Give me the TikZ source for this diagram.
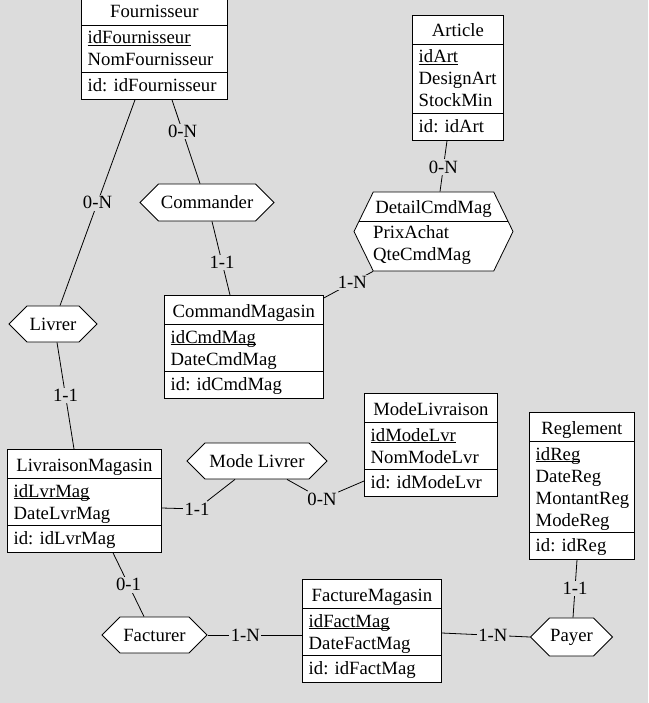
\documentclass[tikz,border=0pt]{standalone}
\usepackage{fontspec}
\setmainfont{Liberation Serif}
\usepackage{tikz}
\usetikzlibrary{shapes.symbols}
\definecolor{SchemaGray}{RGB}{220,220,220}

\newcommand{\idkey}[1]{\underline{\smash{#1}}}
% name, x, top, width, number of attributes, title, attributes, identifier
\newcommand{\ErEntity}[8]{%
  \node[entbox,minimum width=#4pt,minimum height={59pt+22pt*#5},anchor=north west] (#1) at (#2,#3) {};
  \draw[erline] ([yshift=-29pt]#1.north west) -- ([yshift=-29pt]#1.north east);
  \draw[erline] ([yshift=27pt]#1.south west) -- ([yshift=27pt]#1.south east);
  \node[ertext,anchor=base] at ([yshift=-22pt]#1.north) {#6};
  \foreach \a [count=\i] in {#7}
    \node[ertext,anchor=base west] at ([xshift=6.5pt,yshift={-48pt-22pt*(\i-1)}]#1.north west) {\a};
  \node[ertext,anchor=base west] at ([xshift=6.5pt,yshift=8pt]#1.south west) {#8};
}

\tikzset{
  erfont/.style={font=\fontsize{18.7pt}{22pt}\selectfont},
  erline/.style={line width=0.8pt},
  entbox/.style={draw,erline,fill=white,inner sep=0pt},
  ertext/.style={erfont,inner sep=0pt},
  relhex/.style={draw,erline,fill=white,erfont,shape=signal,signal to=west and east,
    signal pointer angle=90,inner sep=0pt},
  card/.style={erfont,fill=SchemaGray,inner sep=1.5pt}
}

\begin{document}
\begin{tikzpicture}[x=1pt,y=-1pt]
\fill[SchemaGray] (0,0) rectangle (648,703);
\useasboundingbox (0,0) rectangle (648,703);

\ErEntity{fourn}{81}{-4}{146}{2}{Fournisseur}{\idkey{idFournisseur},NomFournisseur}{id: idFournisseur}
\ErEntity{art}{412}{15}{91}{3}{Article}{\idkey{idArt},DesignArt,StockMin}{id: idArt}
\ErEntity{cmdmag}{164}{295}{159}{2}{CommandMagasin}{\idkey{idCmdMag},DateCmdMag}{id: idCmdMag}
\ErEntity{livmag}{7}{449}{154}{2}{LivraisonMagasin}{\idkey{idLvrMag},DateLvrMag}{id: idLvrMag}
\ErEntity{modelvr}{364}{393}{133}{2}{ModeLivraison}{\idkey{idModeLvr},NomModeLvr}{id: idModeLvr}
\ErEntity{regl}{529}{412}{105}{4}{Reglement}{\idkey{idReg},DateReg,MontantReg,ModeReg}{id: idReg}
\ErEntity{factmag}{302}{579}{139}{2}{FactureMagasin}{\idkey{idFactMag},DateFactMag}{id: idFactMag}

\node[relhex,minimum width=134pt,minimum height=37pt] (cmder) at (207,202.5) {Commander};
\node[relhex,minimum width=88pt,minimum height=36pt] (livrer) at (53,324) {Livrer};
\node[relhex,minimum width=140pt,minimum height=36pt] (mlivrer) at (257,461) {Mode Livrer};
\node[relhex,minimum width=105pt,minimum height=36pt] (fact) at (154.5,635) {Facturer};
\node[relhex,minimum width=82pt,minimum height=38pt] (payer) at (571.5,637) {Payer};
\node[relhex,signal pointer angle=128,minimum width=159pt,minimum height=79pt] (detail) at (433.5,231.5) {};
\draw[erline] ([xshift=-74.5pt,yshift=10.5pt]detail.center) -- ([xshift=74.5pt,yshift=10.5pt]detail.center);
\node[ertext,anchor=base] at ([yshift=17.5pt]detail.center) {DetailCmdMag};
\node[ertext,anchor=base west] at ([xshift=-60.5pt,yshift=-6.5pt]detail.center) {PrixAchat};
\node[ertext,anchor=base west] at ([xshift=-60.5pt,yshift=-28.5pt]detail.center) {QteCmdMag};

\node[card,fill=none] (lvr1) at (197,509) {1-1};
\node[card,fill=none] (lvr2) at (322,499) {0-N};

\draw[erline] ([xshift=54pt]fourn.south west) -- node[card,pos=.5] {0-N} ([xshift=7pt]livrer.north);
\draw[erline] ([xshift=91pt]fourn.south west) -- node[card,pos=.38] {0-N} ([xshift=-7pt]cmder.north);
\draw[erline] ([xshift=5pt]cmder.south) -- node[card,pos=.56] {1-1} ([xshift=66pt]cmdmag.north west);
\draw[erline] ([xshift=35pt]art.south west) -- node[card,pos=.52] {0-N} ([xshift=6.5pt]detail.north);
\draw[erline] ([xshift=-60.5pt]detail.south) -- node[card,pos=.42] {1-N} ([yshift=-3pt]cmdmag.north east);
\draw[erline] ([xshift=4pt]livrer.south) -- node[card,pos=.5] {1-1} ([xshift=67pt]livmag.north west);
\draw[erline] ([yshift=-59pt]livmag.north east) -- (lvr1) -- ([xshift=-22pt]mlivrer.south);
\draw[erline] ([xshift=30pt]mlivrer.south) -- (lvr2) -- ([yshift=-88pt]modelvr.north west);
\draw[erline] ([xshift=106pt]livmag.south west) -- node[card,pos=.5] {0-1} ([xshift=-10.5pt]fact.north);
\draw[erline] (fact.east) -- node[card,pos=.4] {1-N} ([yshift=-56pt]factmag.north west);
\draw[erline] ([yshift=-54pt]factmag.north east) -- node[card,pos=.58] {1-N} (payer.west);
\draw[erline] ([xshift=48pt]regl.south west) -- node[card,pos=.5] {1-1} ([xshift=1.5pt]payer.north);
\end{tikzpicture}
\end{document}
